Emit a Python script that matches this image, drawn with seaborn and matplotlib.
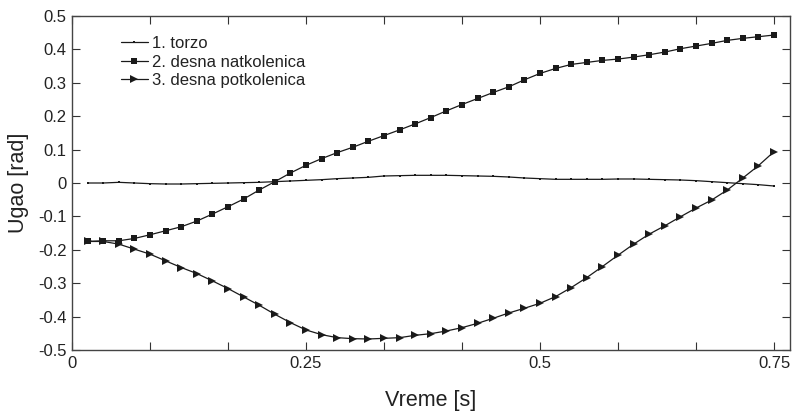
import numpy as np
import pandas as pd
import matplotlib
matplotlib.use("Agg")
import matplotlib.pyplot as plt
import seaborn as sns

sns.set_style("ticks")
plt.rcParams['font.family'] = ['Liberation Sans', 'DejaVu Sans']

# time samples (s)
vreme = [k / 60 for k in range(1, 46)]

torzo = [0.000, 0.000, 0.002, 0.000, -0.002, -0.003, -0.003, -0.002, -0.001, 0.000,
         0.001, 0.002, 0.004, 0.006, 0.008, 0.010, 0.013, 0.015, 0.017, 0.021,
         0.022, 0.023, 0.023, 0.023, 0.022, 0.021, 0.020, 0.018, 0.015, 0.013,
         0.011, 0.011, 0.011, 0.011, 0.012, 0.012, 0.011, 0.010, 0.009, 0.007,
         0.004, 0.001, -0.002, -0.005, -0.009]

natkolenica = [-0.175, -0.173, -0.173, -0.166, -0.155, -0.143, -0.131, -0.114, -0.093, -0.071,
               -0.048, -0.021, 0.004, 0.030, 0.053, 0.073, 0.091, 0.107, 0.125, 0.142,
               0.159, 0.177, 0.196, 0.216, 0.235, 0.253, 0.271, 0.288, 0.309, 0.328,
               0.343, 0.355, 0.361, 0.367, 0.371, 0.377, 0.384, 0.392, 0.402, 0.410,
               0.418, 0.427, 0.433, 0.438, 0.443]

potkolenica = [-0.175, -0.175, -0.183, -0.198, -0.213, -0.233, -0.253, -0.271, -0.293, -0.316,
               -0.341, -0.366, -0.393, -0.418, -0.440, -0.454, -0.463, -0.466, -0.467, -0.465,
               -0.463, -0.456, -0.451, -0.443, -0.433, -0.420, -0.405, -0.389, -0.375, -0.360,
               -0.340, -0.313, -0.283, -0.250, -0.216, -0.183, -0.153, -0.128, -0.101, -0.075,
               -0.051, -0.021, 0.015, 0.052, 0.094]

labels = ["1. torzo", "2. desna natkolenica", "3. desna potkolenica"]

x_major = [0, 0.25, 0.5, 0.75]
y_ticks = [0.5, 0.4, 0.3, 0.2, 0.1, 0, -0.1, -0.2, -0.3, -0.4, -0.5]

fig = plt.figure(figsize=(7.99, 4.13), dpi=100)
ax = fig.add_axes([0.0901, 0.1525, 0.8986, 0.8088])

sns.lineplot(x=vreme, y=torzo, ax=ax, color='#1a1a1a', lw=0.9, marker='s',
             markersize=1.8, markeredgewidth=0, label=labels[0])
sns.lineplot(x=vreme, y=natkolenica, ax=ax, color='#1a1a1a', lw=0.9, marker='s',
             markersize=4.2, markeredgewidth=0, label=labels[1])
sns.lineplot(x=vreme, y=potkolenica, ax=ax, color='#1a1a1a', lw=0.9, marker='>',
             markersize=5.8, markeredgewidth=0, label=labels[2])

ax.set_xlim(0, 0.767)
ax.set_ylim(-0.5, 0.5)

xt = [i / 12 for i in range(10)]
ax.set_xticks(xt)
ax.set_xticklabels([f"{v:g}" if any(abs(v - m) < 1e-9 for m in x_major) else "" for v in xt])
ax.set_yticks(y_ticks)
ax.set_yticklabels([f"{v:g}" for v in y_ticks])

ax.tick_params(direction='in', top=True, right=True, length=6, width=0.8,
               labelsize=12, colors='#333333', labelcolor='#222222', pad=4)
for s in ax.spines.values():
    s.set_color('#444444')
    s.set_linewidth(1.0)

ax.set_xlabel("Vreme [s]", fontsize=15.5, color='#222222', labelpad=14)
ax.set_ylabel("Ugao [rad]", fontsize=15.5, color='#222222', labelpad=6)

leg = ax.legend(loc='upper left', bbox_to_anchor=(0.047, 0.985), frameon=False,
                fontsize=12, handlelength=1.65, handletextpad=0.2, labelspacing=0.22,
                markerscale=1.0)
for t in leg.get_texts():
    t.set_color('#222222')

fig.savefig("out.png", dpi=100)
